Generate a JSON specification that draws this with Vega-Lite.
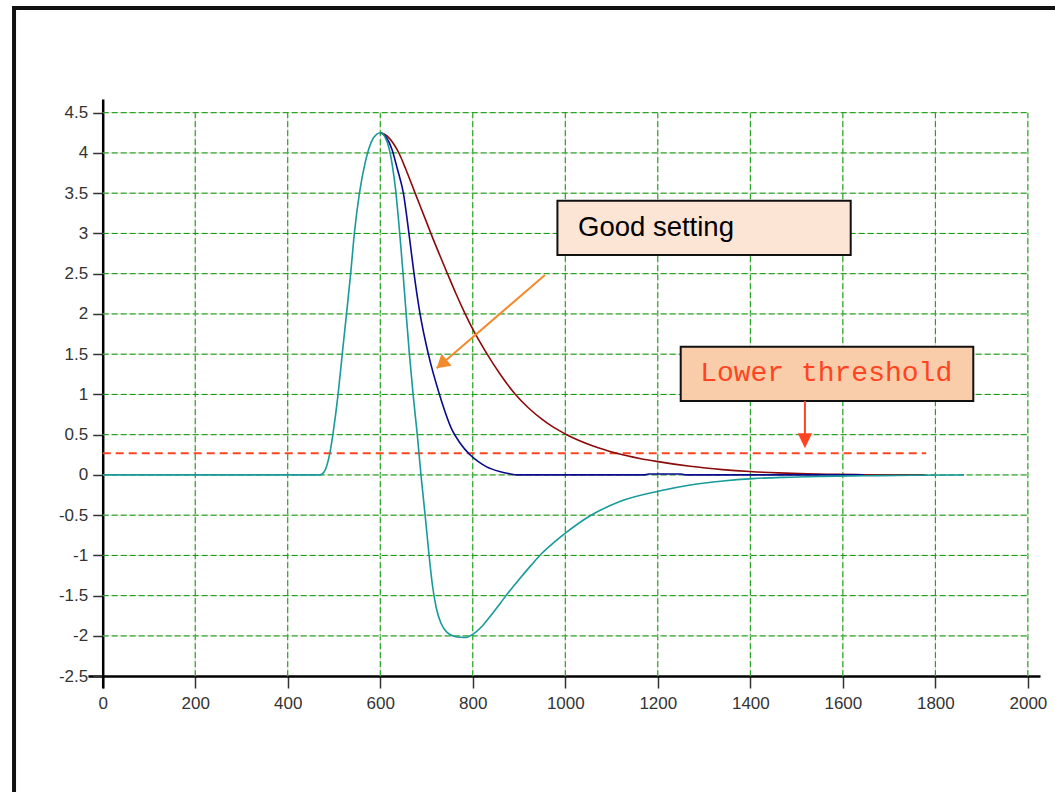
{
  "$schema": "https://vega.github.io/schema/vega-lite/v6.json",
  "width": 952,
  "height": 589,
  "autosize": {"type": "none"},
  "padding": {"left": 88, "top": 99, "right": 15, "bottom": 104},
  "background": "white",
  "config": {"view": {"stroke": null}},
  "datasets": {
    "curves": [
      {"s": "r", "x": 601, "y": 4.25}, {"s": "r", "x": 615, "y": 4.21}, {"s": "r", "x": 628, "y": 4.12},
      {"s": "r", "x": 641, "y": 3.99}, {"s": "r", "x": 655, "y": 3.8}, {"s": "r", "x": 670, "y": 3.58},
      {"s": "r", "x": 685, "y": 3.36}, {"s": "r", "x": 700, "y": 3.14}, {"s": "r", "x": 715, "y": 2.92},
      {"s": "r", "x": 730, "y": 2.71}, {"s": "r", "x": 746, "y": 2.49}, {"s": "r", "x": 763, "y": 2.26},
      {"s": "r", "x": 782, "y": 2.02}, {"s": "r", "x": 800, "y": 1.81}, {"s": "r", "x": 830, "y": 1.51},
      {"s": "r", "x": 860, "y": 1.245}, {"s": "r", "x": 890, "y": 1.015}, {"s": "r", "x": 920, "y": 0.835},
      {"s": "r", "x": 950, "y": 0.69}, {"s": "r", "x": 975, "y": 0.59}, {"s": "r", "x": 1003, "y": 0.5},
      {"s": "r", "x": 1060, "y": 0.36}, {"s": "r", "x": 1111, "y": 0.27}, {"s": "r", "x": 1161, "y": 0.205},
      {"s": "r", "x": 1197, "y": 0.168}, {"s": "r", "x": 1270, "y": 0.107}, {"s": "r", "x": 1340, "y": 0.066},
      {"s": "r", "x": 1399, "y": 0.042}, {"s": "r", "x": 1460, "y": 0.025}, {"s": "r", "x": 1522, "y": 0.014},
      {"s": "r", "x": 1580, "y": 0.007}, {"s": "r", "x": 1641, "y": 0.003}, {"s": "r", "x": 1700, "y": 0.001},
      {"s": "r", "x": 1777, "y": 0.0},

      {"s": "b", "x": 601, "y": 4.25}, {"s": "b", "x": 612, "y": 4.2}, {"s": "b", "x": 625, "y": 4.05},
      {"s": "b", "x": 637, "y": 3.8}, {"s": "b", "x": 650, "y": 3.5}, {"s": "b", "x": 662, "y": 3.0},
      {"s": "b", "x": 673, "y": 2.5}, {"s": "b", "x": 686, "y": 2.0}, {"s": "b", "x": 704, "y": 1.5},
      {"s": "b", "x": 728, "y": 1.0}, {"s": "b", "x": 756, "y": 0.55}, {"s": "b", "x": 772, "y": 0.4},
      {"s": "b", "x": 794, "y": 0.25}, {"s": "b", "x": 812, "y": 0.165}, {"s": "b", "x": 830, "y": 0.1},
      {"s": "b", "x": 860, "y": 0.04}, {"s": "b", "x": 880, "y": 0.015}, {"s": "b", "x": 895, "y": 0.0},
      {"s": "b", "x": 1170, "y": 0.0}, {"s": "b", "x": 1180, "y": 0.012}, {"s": "b", "x": 1250, "y": 0.012},
      {"s": "b", "x": 1262, "y": 0.0}, {"s": "b", "x": 1645, "y": 0.0},

      {"s": "t", "x": 0, "y": 0.0}, {"s": "t", "x": 470, "y": 0.0}, {"s": "t", "x": 479, "y": 0.04},
      {"s": "t", "x": 491, "y": 0.27}, {"s": "t", "x": 498, "y": 0.52}, {"s": "t", "x": 509, "y": 1.01},
      {"s": "t", "x": 518, "y": 1.51}, {"s": "t", "x": 527, "y": 2.0}, {"s": "t", "x": 536, "y": 2.5},
      {"s": "t", "x": 544, "y": 3.0}, {"s": "t", "x": 555, "y": 3.5}, {"s": "t", "x": 567, "y": 3.87},
      {"s": "t", "x": 581, "y": 4.14}, {"s": "t", "x": 592, "y": 4.23}, {"s": "t", "x": 601, "y": 4.25},
      {"s": "t", "x": 610, "y": 4.2}, {"s": "t", "x": 618, "y": 4.08}, {"s": "t", "x": 626, "y": 3.85},
      {"s": "t", "x": 633, "y": 3.55}, {"s": "t", "x": 639, "y": 3.2}, {"s": "t", "x": 645, "y": 2.8},
      {"s": "t", "x": 650, "y": 2.45}, {"s": "t", "x": 656, "y": 2.0}, {"s": "t", "x": 663, "y": 1.5},
      {"s": "t", "x": 671, "y": 1.0}, {"s": "t", "x": 680, "y": 0.5}, {"s": "t", "x": 688, "y": 0.0},
      {"s": "t", "x": 697, "y": -0.5}, {"s": "t", "x": 705, "y": -0.97}, {"s": "t", "x": 713, "y": -1.38},
      {"s": "t", "x": 721, "y": -1.65}, {"s": "t", "x": 731, "y": -1.84}, {"s": "t", "x": 745, "y": -1.96},
      {"s": "t", "x": 763, "y": -2.01}, {"s": "t", "x": 783, "y": -2.02}, {"s": "t", "x": 800, "y": -1.98},
      {"s": "t", "x": 820, "y": -1.88}, {"s": "t", "x": 840, "y": -1.74}, {"s": "t", "x": 860, "y": -1.59},
      {"s": "t", "x": 880, "y": -1.44}, {"s": "t", "x": 900, "y": -1.3}, {"s": "t", "x": 925, "y": -1.13},
      {"s": "t", "x": 950, "y": -0.97}, {"s": "t", "x": 975, "y": -0.84}, {"s": "t", "x": 1003, "y": -0.71},
      {"s": "t", "x": 1053, "y": -0.51}, {"s": "t", "x": 1118, "y": -0.33}, {"s": "t", "x": 1203, "y": -0.2},
      {"s": "t", "x": 1270, "y": -0.125}, {"s": "t", "x": 1341, "y": -0.075}, {"s": "t", "x": 1406, "y": -0.046},
      {"s": "t", "x": 1471, "y": -0.03}, {"s": "t", "x": 1558, "y": -0.018}, {"s": "t", "x": 1650, "y": -0.01},
      {"s": "t", "x": 1750, "y": -0.004}, {"s": "t", "x": 1862, "y": 0.0}
    ],
    "gridV": [{"x": 200}, {"x": 400}, {"x": 600}, {"x": 800}, {"x": 1000}, {"x": 1200}, {"x": 1400}, {"x": 1600}, {"x": 1800}, {"x": 2000}],
    "gridH": [{"y": -2}, {"y": -1.5}, {"y": -1}, {"y": -0.5}, {"y": 0}, {"y": 0.5}, {"y": 1}, {"y": 1.5}, {"y": 2}, {"y": 2.5}, {"y": 3}, {"y": 3.5}, {"y": 4}, {"y": 4.5}]
  },
  "layer": [
    {
      "data": {"name": "gridV"},
      "mark": {"type": "rule", "color": "#e3dcd8", "strokeWidth": 1},
      "encoding": {
        "x": {"field": "x", "type": "quantitative", "scale": {"domain": [-31.8, 2026.2], "nice": false, "zero": false},
          "axis": {"values": [0, 200, 400, 600, 800, 1000, 1200, 1400, 1600, 1800, 2000], "offset": -12, "title": null, "grid": false,
            "domainColor": "#000000", "domainWidth": 2.5, "tickColor": "#333333", "tickWidth": 1.5, "tickSize": 12,
            "labelFont": "Liberation Sans", "labelFontSize": 17, "labelColor": "#333333", "labelPadding": 7, "labelFlush": false,
            "labelExpr": "'' + datum.value"}},
        "y": {"datum": -2.5, "type": "quantitative", "scale": {"domain": [-2.647, 4.67], "nice": false, "zero": false},
          "axis": {"values": [-2.5, -2, -1.5, -1, -0.5, 0, 0.5, 1, 1.5, 2, 2.5, 3, 3.5, 4, 4.5], "offset": -14.7, "title": null, "grid": false,
            "domainColor": "#000000", "domainWidth": 2.5, "tickColor": "#333333", "tickWidth": 1.5, "tickSize": 10,
            "labelFont": "Liberation Sans", "labelFontSize": 17, "labelColor": "#333333", "labelPadding": 5, "labelFlush": false,
            "labelExpr": "'' + datum.value"}},
        "y2": {"datum": 4.5}
      }
    },
    {
      "data": {"name": "gridV"},
      "mark": {"type": "rule", "color": "#009900", "strokeWidth": 1, "strokeDash": [6, 3]},
      "encoding": {
        "x": {"field": "x", "type": "quantitative"},
        "y": {"datum": -2.5, "type": "quantitative"},
        "y2": {"datum": 4.5}
      }
    },
    {
      "data": {"name": "gridH"},
      "mark": {"type": "rule", "color": "#e3dcd8", "strokeWidth": 1},
      "encoding": {
        "y": {"field": "y", "type": "quantitative"},
        "x": {"datum": 0, "type": "quantitative"},
        "x2": {"datum": 2000}
      }
    },
    {
      "data": {"name": "gridH"},
      "mark": {"type": "rule", "color": "#009900", "strokeWidth": 1, "strokeDash": [6, 3]},
      "encoding": {
        "y": {"field": "y", "type": "quantitative"},
        "x": {"datum": 0, "type": "quantitative"},
        "x2": {"datum": 2000}
      }
    },
    {
      "data": {"values": [{}]},
      "mark": {"type": "rect", "fill": null, "stroke": "#111111", "strokeWidth": 4},
      "encoding": {
        "x": {"datum": -191.7, "type": "quantitative"},
        "x2": {"datum": 2200},
        "y": {"datum": 5.8, "type": "quantitative"},
        "y2": {"datum": -4.5}
      }
    },
    {
      "data": {"values": [{"x": 0, "x2": 1780, "y": 0.27}]},
      "mark": {"type": "rule", "color": "#ff4422", "strokeWidth": 2, "strokeDash": [8, 5]},
      "encoding": {
        "x": {"field": "x", "type": "quantitative"},
        "x2": {"field": "x2"},
        "y": {"field": "y", "type": "quantitative"}
      }
    },
    {
      "data": {"name": "curves"},
      "mark": {"type": "line", "strokeWidth": 1.6, "interpolate": "monotone"},
      "encoding": {
        "x": {"field": "x", "type": "quantitative"},
        "y": {"field": "y", "type": "quantitative"},
        "color": {"field": "s", "type": "nominal", "scale": {"domain": ["r", "b", "t"], "range": ["#8b0a0a", "#0a0a8f", "#189a9a"]}, "legend": null}
      }
    },
    {
      "data": {"values": [{"x": 983, "x2": 1617, "y": 3.407, "y2": 2.732}]},
      "mark": {"type": "rect", "fill": "#fce5d5", "stroke": "#111111", "strokeWidth": 2},
      "encoding": {
        "x": {"field": "x", "type": "quantitative"},
        "x2": {"field": "x2"},
        "y": {"field": "y", "type": "quantitative"},
        "y2": {"field": "y2"}
      }
    },
    {
      "data": {"values": [{"label": "Good setting", "x": 1027.5, "y": 3.068}]},
      "mark": {"type": "text", "font": "Liberation Sans", "fontSize": 27.5, "color": "#000000", "align": "left", "baseline": "middle"},
      "encoding": {
        "x": {"field": "x", "type": "quantitative"},
        "y": {"field": "y", "type": "quantitative"},
        "text": {"field": "label"}
      }
    },
    {
      "data": {"values": [{"x": 956, "y": 2.484, "x2": 722, "y2": 1.325}]},
      "mark": {"type": "rule", "color": "#f28a2e", "strokeWidth": 2},
      "encoding": {
        "x": {"field": "x", "type": "quantitative"},
        "x2": {"field": "x2"},
        "y": {"field": "y", "type": "quantitative"},
        "y2": {"field": "y2"}
      }
    },
    {
      "data": {"values": [{"x": 722, "y": 1.325}]},
      "mark": {"type": "point", "shape": "M0,0L-0.6,1L0.6,1Z", "size": 676, "angle": 229.3, "filled": true, "color": "#f28a2e", "opacity": 1},
      "encoding": {
        "x": {"field": "x", "type": "quantitative"},
        "y": {"field": "y", "type": "quantitative"}
      }
    },
    {
      "data": {"values": [{"x": 1249.5, "x2": 1882, "y": 1.593, "y2": 0.919}]},
      "mark": {"type": "rect", "fill": "#f9cda9", "stroke": "#111111", "strokeWidth": 2},
      "encoding": {
        "x": {"field": "x", "type": "quantitative"},
        "x2": {"field": "x2"},
        "y": {"field": "y", "type": "quantitative"},
        "y2": {"field": "y2"}
      }
    },
    {
      "data": {"values": [{"label": "Lower threshold", "x": 1291.5, "y": 1.266}]},
      "mark": {"type": "text", "font": "Liberation Mono", "fontSize": 28, "color": "#ff4422", "align": "left", "baseline": "middle"},
      "encoding": {
        "x": {"field": "x", "type": "quantitative"},
        "y": {"field": "y", "type": "quantitative"},
        "text": {"field": "label"}
      }
    },
    {
      "data": {"values": [{"x": 1518, "y": 0.919, "x2": 1518, "y2": 0.4}]},
      "mark": {"type": "rule", "color": "#ff4422", "strokeWidth": 2},
      "encoding": {
        "x": {"field": "x", "type": "quantitative"},
        "x2": {"field": "x2"},
        "y": {"field": "y", "type": "quantitative"},
        "y2": {"field": "y2"}
      }
    },
    {
      "data": {"values": [{"x": 1518, "y": 0.331}]},
      "mark": {"type": "point", "shape": "M0,0L-0.48,1L0.48,1Z", "size": 900, "angle": 180, "filled": true, "color": "#ff4422", "opacity": 1},
      "encoding": {
        "x": {"field": "x", "type": "quantitative"},
        "y": {"field": "y", "type": "quantitative"}
      }
    }
  ]
}
